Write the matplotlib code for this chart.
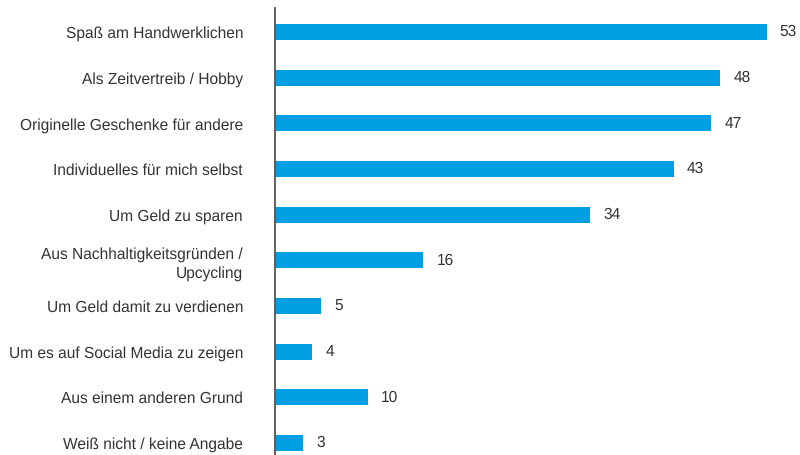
import matplotlib
matplotlib.use('Agg')
import matplotlib.pyplot as plt

# reasons (top to bottom) and share in percent
categories = [
    'Spaß am Handwerklichen',
    'Als Zeitvertreib / Hobby',
    'Originelle Geschenke für andere',
    'Individuelles für mich selbst',
    'Um Geld zu sparen',
    'Aus Nachhaltigkeitsgründen /\nUpcycling',
    'Um Geld damit zu verdienen',
    'Um es auf Social Media zu zeigen',
    'Aus einem anderen Grund',
    'Weiß nicht / keine Angabe',
]
values = [53, 48, 47, 43, 34, 16, 5, 4, 10, 3]

BAR_COLOR = '#009fe3'
TEXT_COLOR = '#333333'
FONTSIZE = 11.2

plt.rcParams['font.family'] = ['Liberation Sans', 'DejaVu Sans']
plt.rcParams['text.hinting'] = 'none'

fig = plt.figure(figsize=(8, 4.55), dpi=100)
ax = fig.add_axes([0.34375, 0.0, 1 - 0.34375, 0.982])

ypos = list(range(len(categories)))
ax.barh(ypos, values, height=0.35, color=BAR_COLOR)

for y, v in zip(ypos, values):
    ax.annotate(str(v), xy=(v, y), xytext=(9.5, 0),
                textcoords='offset points', ha='left', va='center',
                fontsize=FONTSIZE, color=TEXT_COLOR)

ax.set_ylim(9.26, -0.525)
ax.set_xlim(0, 56.6)

ax.set_yticks(ypos)
ax.set_yticklabels(categories, fontsize=FONTSIZE, color=TEXT_COLOR,
                   ha='right', multialignment='right', linespacing=1.35)
ax.tick_params(axis='y', length=0, pad=23)
ax.set_xticks([])

for side in ['top', 'right', 'bottom']:
    ax.spines[side].set_visible(False)
ax.spines['left'].set_color('#555555')
ax.spines['left'].set_linewidth(1.3)

fig.savefig('out.png', dpi=100)
plt.close('all')
